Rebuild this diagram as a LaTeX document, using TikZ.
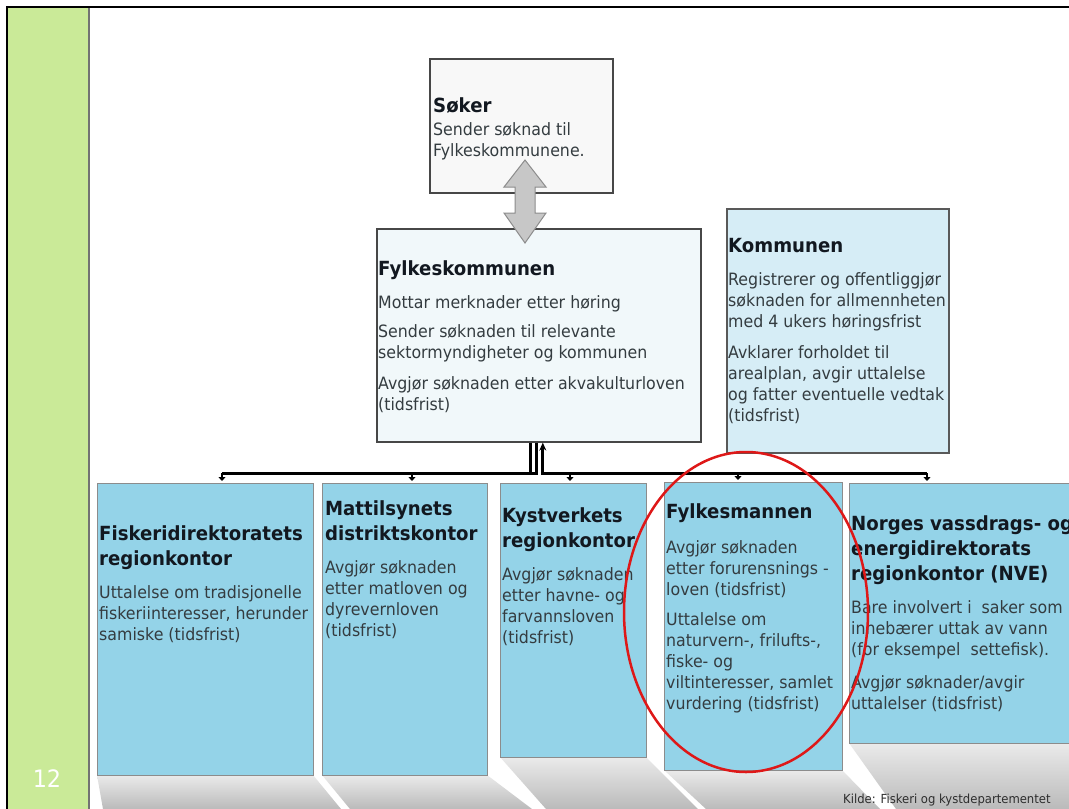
\documentclass[tikz,border=0pt]{standalone}
\usepackage{fontspec}
\setmainfont{DejaVu Sans}[FakeStretch=0.93]
\usetikzlibrary{arrows.meta,calc}
\definecolor{stripgreen}{RGB}{202,234,152}
\definecolor{boxblue}{RGB}{148,211,232}
\definecolor{kblue}{RGB}{214,237,246}
\definecolor{fkfill}{RGB}{241,248,250}
\definecolor{skfill}{RGB}{248,248,248}
\definecolor{headcol}{RGB}{18,24,32}
\definecolor{bodycol}{RGB}{52,60,64}
\definecolor{ringred}{RGB}{222,24,24}
\newcommand{\hdline}[1]{{\fontsize{19.5}{21}\selectfont\bfseries\color{headcol}\rule{0pt}{15pt}#1}}
\tikzset{
  box/.style={draw=black!45, line width=1pt, anchor=north west, inner sep=0pt, fill=boxblue},
  topbox/.style={draw=black!72, line width=1.6pt, anchor=north west, inner sep=0pt},
  txt/.style={anchor=north west, align=left, inner sep=0pt, font=\fontsize{17}{21}\selectfont, text=bodycol},
  conn/.style={line width=3pt, black},
  stub/.style={line width=2.5pt, black, -{Triangle[length=4pt 0 0, width=7pt 0 0]}, shorten >=2pt},
  floor/.style={top color=black!8, bottom color=black!27, draw=none},
}
\begin{document}
\begin{tikzpicture}[x=1pt,y=-1pt]
\useasboundingbox (0,0) rectangle (1069,809);
\fill[white] (0,0) rectangle (1069,809);
% side strip and frame
\fill[stripgreen] (7,7) rectangle (89,809);
\draw[black!55, line width=1.5pt] (89,7) -- (89,809);
\draw[black, line width=2pt] (7,809) -- (7,7) -- (1069,7);
\node[font=\fontsize{24}{24}\selectfont, text=white, inner sep=0pt] (pg) at (47,779) {12};

% floor reflections
\shade[floor] (97,775) -- (313,775) -- (341,809) -- (103,809) -- cycle;
\shade[floor] (322,775) -- (487,775) -- (532,809) -- (350,809) -- cycle;
\shade[floor] (500,757) -- (646,757) -- (698,809) -- (546,809) -- cycle;
\shade[floor] (664,770) -- (842,770) -- (880,809) -- (706,809) -- cycle;
\shade[floor] (849,743) -- (1069,743) -- (1069,809) -- (896,809) -- cycle;

% top boxes
\node[topbox, fill=skfill, minimum width=183pt, minimum height=134pt] (sk) at (429,58) {};
\node[topbox, fill=fkfill, minimum width=324pt, minimum height=213pt] (fk) at (376,228) {};
\node[topbox, fill=kblue, draw=black!65, minimum width=222pt, minimum height=244pt] (km) at (726,208) {};

% bottom boxes
\node[box, minimum width=216pt, minimum height=292pt] (b1) at (97,483) {};
\node[box, minimum width=165pt, minimum height=292pt] (b2) at (322,483) {};
\node[box, minimum width=146pt, minimum height=274pt] (b3) at (500,483) {};
\node[box, minimum width=178pt, minimum height=288pt] (b4) at (664,482) {};
\node[box, minimum width=240pt, minimum height=260pt] (b5) at (849,483) {};

% texts
\node[txt] (skt) at (433,97) {\hdline{Søker}\\[2pt]Sender søknad til\\Fylkeskommunene.};
\node[txt] (fkt) at (378,260) {\hdline{Fylkeskommunen}\\[12pt]Mottar merknader etter høring\\[8pt]Sender søknaden til relevante\\sektormyndigheter og kommunen\\[10pt]Avgjør søknaden etter akvakulturloven\\(tidsfrist)};
\node[txt] (kmt) at (728,237) {\hdline{Kommunen}\\[12pt]Registrerer og offentliggjør\\søknaden for allmennheten\\med 4 ukers høringsfrist\\[10pt]Avklarer forholdet til\\arealplan, avgir uttalelse\\og fatter eventuelle vedtak\\(tidsfrist)};
\node[txt] (b1t) at (99,525) {\hdline{Fiskeridirektoratets}\\[4pt]\hdline{regionkontor}\\[12pt]Uttalelse om tradisjonelle\\fiskeriinteresser, herunder\\samiske (tidsfrist)};
\node[txt] (b2t) at (325,500) {\hdline{Mattilsynets}\\[4pt]\hdline{distriktskontor}\\[12pt]Avgjør søknaden\\etter matloven og\\dyrevernloven\\(tidsfrist)};
\node[txt] (b3t) at (502,507) {\hdline{Kystverkets}\\[4pt]\hdline{regionkontor}\\[12pt]Avgjør søknaden\\etter havne- og\\farvannsloven\\(tidsfrist)};
\node[txt] (b4t) at (666,503) {\hdline{Fylkesmannen}\\[14pt]Avgjør søknaden\\etter forurensnings -\\loven (tidsfrist)\\[9pt]Uttalelse om\\naturvern-, frilufts-,\\fiske- og\\viltinteresser, samlet\\vurdering (tidsfrist)};
\node[txt] (b5t) at (851,515) {\hdline{Norges vassdrags- og}\\[4pt]\hdline{energidirektorats}\\[4pt]\hdline{regionkontor (NVE)}\\[12pt]Bare involvert i~~saker som\\innebærer uttak av vann\\(for eksempel~~settefisk).\\[12pt]Avgjør søknader/avgir\\uttalelser (tidsfrist)};

% connectors
\coordinate (t1) at (222,473);
\coordinate (t2) at (412,473);
\coordinate (t3) at (570,473);
\coordinate (t4) at (738,473);
\coordinate (t5) at (927,473);
\draw[conn] ([xshift=-8pt]fk.south) |- (t1);
\draw[conn] ([xshift=-2pt]fk.south) |- (t2);
\draw[conn, {Stealth[length=8pt 0 0, width=7pt 0 0]}-] ([xshift=4pt]fk.south) |- (t5);
\draw[stub] (t1) -- (t1 |- b1.north);
\draw[stub] (t2) -- (t2 |- b2.north);
\draw[stub] (t3) -- (t3 |- b3.north);
\draw[stub] (t4) -- (t4 |- b4.north);
\draw[stub] (t5) -- (t5 |- b5.north);

% double arrow between Søker and Fylkeskommunen
\coordinate (da) at (525,160);
\draw[fill=black!22, draw=black!45, line width=1pt]
  (da) -- ++(21,27) -- ++(-11,0) -- ++(0,26) -- ++(11,0) -- ++(-21,30)
  -- ++(-21,-30) -- ++(11,0) -- ++(0,-26) -- ++(-11,0) -- cycle;

% red ring
\draw[ringred, line width=2.5pt] (746,612) ellipse [x radius=122pt, y radius=160pt];

% source
\node[anchor=base west, inner sep=0pt, font=\fontsize{12.5}{14}\selectfont, text=black!82] (src) at (843,803) {Kilde: Fiskeri og kystdepartementet};
\end{tikzpicture}
\end{document}
